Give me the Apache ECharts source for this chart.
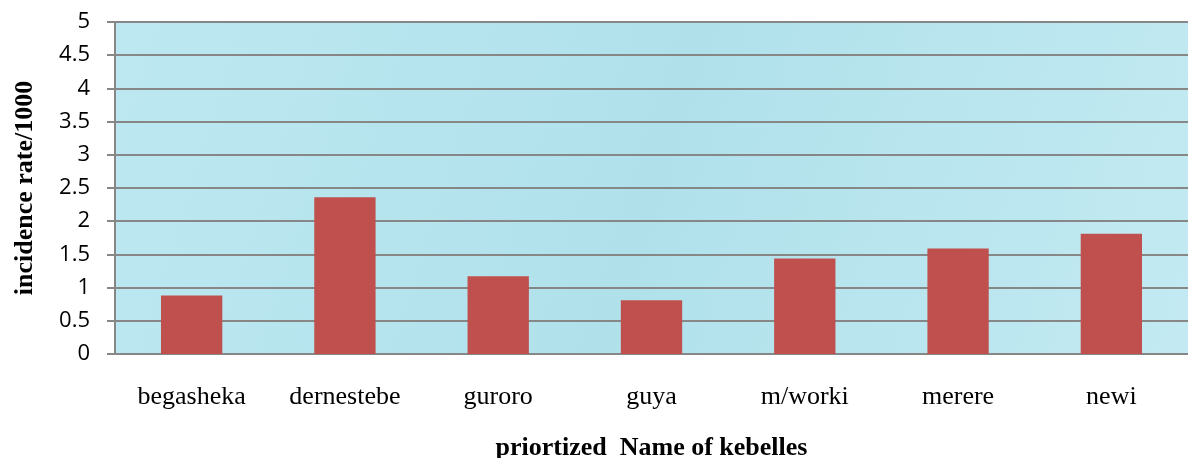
<!DOCTYPE html>
<html>
<head>
<meta charset="utf-8">
<script src="https://cdn.jsdelivr.net/npm/echarts@6/dist/echarts.min.js"></script>
<style>
  html, body { margin: 0; padding: 0; background: #fff; }
  #chart { width: 1188px; height: 458px; }
</style>
</head>
<body>
<div id="chart"></div>
<script>
// Kebelles along the x axis, incidence per 1000.
const kebelles = ["begasheka", "dernestebe", "guroro", "guya", "m/worki", "merere", "newi"];
const incidence = [0.88, 2.36, 1.17, 0.81, 1.44, 1.59, 1.81];
const yTicks = { min: 0, max: 5, interval: 0.5 };

const GRID_GREY = "#878787";
const SERIF = "Liberation Serif";

const chart = echarts.init(document.getElementById("chart"));
chart.setOption({
  animation: false,
  grid: {
    left: 115, right: 0, top: 22, bottom: 104,
    outerBoundsMode: "none", // v6 would otherwise shrink the plot to fit the names
    show: true,
    borderWidth: 0,
    // stand-in for the water-drop picture fill behind the plot
    backgroundColor: new echarts.graphic.LinearGradient(0, 0, 1, 1, [
      { offset: 0, color: "#bde8f1" },
      { offset: 0.5, color: "#b0e1eb" },
      { offset: 1, color: "#c3eaf2" },
    ]),
  },
  xAxis: {
    type: "category",
    data: kebelles,
    name: "priortized  Name of kebelles",
    nameLocation: "middle",
    nameGap: 81,
    nameTextStyle: { fontFamily: SERIF, fontWeight: "bold", fontSize: 26, color: "#000" },
    axisLine: { lineStyle: { color: GRID_GREY, width: 2 } },
    axisTick: { show: false },
    axisLabel: { fontFamily: SERIF, fontSize: 26, color: "#000", margin: 30 },
  },
  yAxis: {
    type: "value",
    ...yTicks,
    name: "incidence rate/1000",
    nameLocation: "middle",
    nameGap: 77,
    nameTextStyle: { fontFamily: SERIF, fontWeight: "bold", fontSize: 26, color: "#000" },
    axisLine: { show: true, lineStyle: { color: GRID_GREY, width: 2 } },
    axisTick: { show: true, length: 8, lineStyle: { color: GRID_GREY, width: 2 } },
    axisLabel: { fontFamily: "Open Sans", fontSize: 22, color: "#000", margin: 25 },
    splitLine: { lineStyle: { color: GRID_GREY, width: 2 } },
  },
  series: [{
    type: "bar",
    data: incidence,
    barWidth: "40%",
    itemStyle: { color: "#c0504d" },
  }],
});
</script>
</body>
</html>
